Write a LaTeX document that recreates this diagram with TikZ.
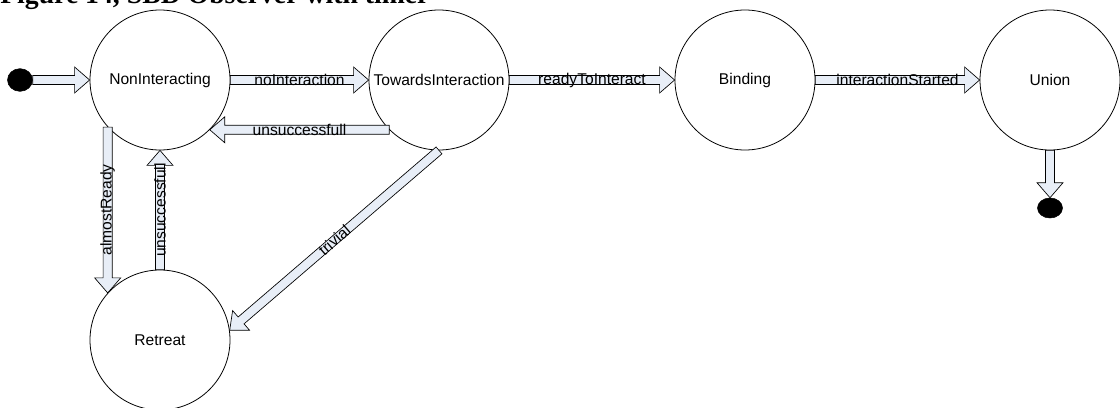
\documentclass[tikz,border=0pt]{standalone}
\usepackage{fontspec}
\setmainfont{Liberation Sans}
\newfontfamily\captionfont{Liberation Serif}
\usetikzlibrary{shapes,calc}
\definecolor{arrowfill}{RGB}{232,238,247}

% fat outlined arrow from #2 to #3, label #4 turned by #1
\newcommand{\blockarrow}[4][0]{%
  \draw[barrow] let \p1=#2, \p2=#3, \n1={atan2(\y2-\y1,\x2-\x1)}, \n2={veclen(\x2-\x1,\y2-\y1)} in
    [shift={(\p1)}, rotate=\n1]
    (0pt,-3.4pt) -- ({\n2-11.25pt},-3.4pt) -- ({\n2-11.25pt},-9.75pt) -- ({\n2},0pt)
    -- ({\n2-11.25pt},9.75pt) -- ({\n2-11.25pt},3.4pt) -- (0pt,3.4pt) -- cycle
    ({\n2/2},0pt) node[label, rotate=#1] {#4};
}

\begin{document}
\begin{tikzpicture}[
    x=0.75pt, y=-0.75pt,
    state/.style={draw, circle, minimum size=105pt, inner sep=0pt, line width=0.6pt, font=\fontsize{11.7}{14}\selectfont},
    dot/.style={draw, fill=black, ellipse, inner sep=0pt},
    barrow/.style={draw, fill=arrowfill, line width=0.5pt},
    label/.style={inner sep=0pt, font=\fontsize{11.7}{14}\selectfont}
]
    \useasboundingbox (0,0) rectangle (1120,407);

    % Title (cut by the page)
    \node[anchor=base west, inner sep=0pt, font=\captionfont\bfseries\fontsize{20.8}{24}\selectfont] (title) at (0,3) {Figure 14, SBD Observer with timer};

    % States
    \node[state] (ni) at (160,80) {NonInteracting};
    \node[state] (ti) at (439,80) {TowardsInteraction};
    \node[state] (bd) at (745,80) {Binding};
    \node[state] (un) at (1050,80) {Union};
    \node[state] (rt) at (160,340) {Retreat};

    \node[dot, minimum width=18.75pt, minimum height=17pt] (start) at (20,80) {};
    \node[dot, minimum width=18.75pt, minimum height=15pt] (stop) at (1050,208) {};

    % Transitions
    \blockarrow{(start.east)}{(ni.west)}{}
    \blockarrow{(ni.east)}{(ti.west)}{noInteraction}
    \blockarrow{(ti.-135)}{(ni.-45)}{unsuccessfull}
    \blockarrow[90]{(ni.222)}{(rt.138)}{almostReady}
    \blockarrow[90]{(rt.north)}{(ni.south)}{unsuccessfull}
    \blockarrow[41]{(ti.south)}{(rt.8)}{trivial}
    \blockarrow{(ti.east)}{(bd.west)}{readyToInteract}
    \blockarrow{(bd.east)}{(un.west)}{interactionStarted}
    \blockarrow{(un.south)}{(stop.north)}{}

\end{tikzpicture}
\end{document}
